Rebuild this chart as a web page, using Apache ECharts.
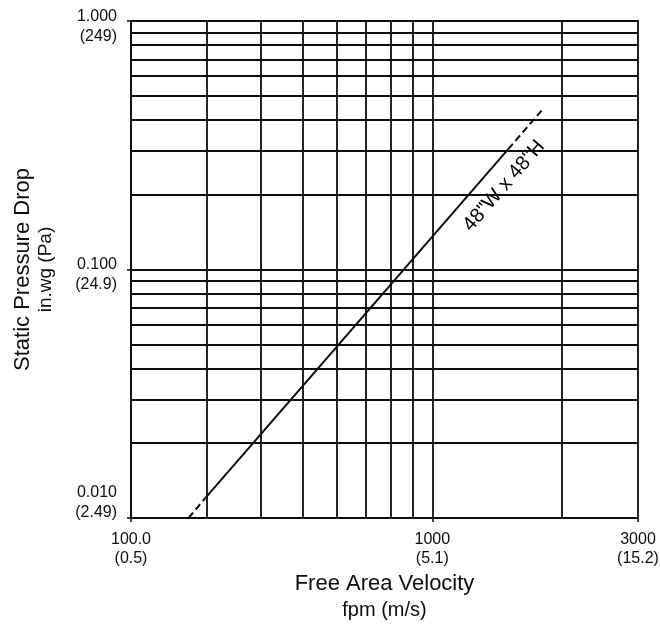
<!DOCTYPE html>
<html><head><meta charset="utf-8">
<script src="https://cdn.jsdelivr.net/npm/echarts@6/dist/echarts.min.js"></script>
<style>html,body{margin:0;padding:0;background:#fff}#c{width:660px;height:624px}</style>
</head><body><div id="c"></div>
<script>
// Axis ticks and labels
const xTickValues = [200, 1000, 3000];
const xTickLabels = [['100.0', '(0.5)'], ['1000', '(5.1)'], ['3000', '(15.2)']];
const yTickValues = [0.01, 0.1, 1];
const yTickLabels = [['0.010', '(2.49)'], ['0.100', '(24.9)'], ['1.000', '(249)']];
// Grid lines
const xGridValues = [300, 400, 500, 600, 700, 800, 900, 1000, 2000];
const yGridValues = [0.02, 0.03, 0.04, 0.05, 0.06, 0.07, 0.08, 0.09, 0.1,
                     0.2, 0.3, 0.4, 0.5, 0.6, 0.7, 0.8, 0.9];
// Curve (fpm, in.wg)
const curveDashLow = [[272, 0.0100], [297, 0.0120]];
const curveSolid = [[297, 0.0120], [600, 0.0488], [1000, 0.1355], [1500, 0.305]];
const curveDashHigh = [[1500, 0.305], [1800, 0.440]];
const curveLabel = '48"W x 48"H';
const curveLabelAt = [1467, 0.217];

const FONT = 'Liberation Sans, Arial, Helvetica, sans-serif';
const INK = '#0d0d0d';

function idxOf(vals, v) {
  for (let i = 0; i < vals.length; i++) {
    if (Math.abs(Math.log10(vals[i]) - Math.log10(v)) < 1e-6) return i;
  }
  return -1;
}

const chart = echarts.init(document.getElementById('c'), null, {renderer: 'canvas'});
const lineStyleBase = {color: INK, width: 2};

chart.setOption({
  animation: false,
  backgroundColor: '#fff',
  grid: {left: 131, right: 22, top: 21, bottom: 106, containLabel: false, outerBoundsMode: 'none',
         show: true, borderColor: INK, borderWidth: 1.8},
  xAxis: {
    type: 'log', logBase: 10, min: 200, max: 3000,
    axisLine: {show: true, lineStyle: {color: INK, width: 1.8}},
    axisTick: {show: true, inside: false, length: 4, customValues: xTickValues, lineStyle: {color: INK, width: 1.5}},
    splitLine: {show: false},
    minorTick: {show: false}, minorSplitLine: {show: false},
    axisLabel: {
      show: true, margin: 12, customValues: xTickValues,
      fontFamily: FONT, fontSize: 16, lineHeight: 19, color: INK, align: 'center',
      formatter: function (v) { const i = idxOf(xTickValues, v); return i < 0 ? '' : xTickLabels[i].join('\n'); }
    },
    name: '{a|Free Area Velocity}\n{b|fpm (m/s)}',
    nameLocation: 'middle', nameGap: 53,
    nameTextStyle: {
      fontFamily: FONT, color: INK, align: 'center',
      rich: {a: {fontFamily: FONT, fontSize: 22, lineHeight: 26, color: INK},
             b: {fontFamily: FONT, fontSize: 20, lineHeight: 26, color: INK}}
    }
  },
  yAxis: {
    type: 'log', logBase: 10, min: 0.01, max: 1,
    axisLine: {show: true, lineStyle: {color: INK, width: 1.8}},
    axisTick: {show: true, inside: false, length: 4, customValues: yTickValues, lineStyle: {color: INK, width: 1.5}},
    splitLine: {show: false},
    minorTick: {show: false}, minorSplitLine: {show: false},
    axisLabel: {
      show: true, margin: 14, customValues: yTickValues,
      fontFamily: FONT, fontSize: 16, lineHeight: 20, color: INK, align: 'right',
      formatter: function (v) {
        const i = idxOf(yTickValues, v);
        if (i < 0) return '';
        const t = yTickLabels[i];
        if (i === 0) return '{n|' + t[0] + '}\n{n|' + t[1] + '}\n{lo| }';
        return '{hi| }\n{n|' + t[0] + '}\n{n|' + t[1] + '}';
      },
      rich: {
        n: {fontFamily: FONT, fontSize: 16, lineHeight: 20, color: INK, align: 'right'},
        hi: {fontFamily: FONT, fontSize: 4, lineHeight: 11, color: INK, align: 'right'},
        lo: {fontFamily: FONT, fontSize: 4, lineHeight: 30, color: INK, align: 'right'}
      }
    },
    name: '{a|Static Pressure Drop}\n{b|in.wg (Pa)}',
    nameLocation: 'middle', nameGap: 74, nameRotate: 90,
    nameTextStyle: {
      fontFamily: FONT, color: INK, align: 'center',
      rich: {a: {fontFamily: FONT, fontSize: 22, lineHeight: 24, color: INK},
             b: {fontFamily: FONT, fontSize: 19, lineHeight: 22, color: INK}}
    }
  },
  series: [
    {
      name: 'grid', type: 'line', data: [], z: 1, silent: true, symbol: 'none',
      markLine: {
        silent: true, symbol: ['none', 'none'], label: {show: false}, animation: false,
        lineStyle: {color: INK, width: 1.8, type: 'solid'},
        emphasis: {disabled: true},
        data: xGridValues.map(v => ({xAxis: v})).concat(yGridValues.map(v => ({yAxis: v})))
      }
    },
    {
      name: 'label', type: 'scatter', z: 2, silent: true,
      data: [curveLabelAt], symbol: 'circle', symbolSize: 0,
      itemStyle: {color: INK, opacity: 1},
      label: {
        show: true, position: 'inside', rotate: 49, formatter: curveLabel,
        fontFamily: FONT, fontSize: 20, color: '#000', opacity: 1,
        textBorderWidth: 0,
        backgroundColor: '#fff', padding: [3, 5]
      }
    },
    {name: 'dashLow', type: 'line', z: 3, data: curveDashLow, symbol: 'none', silent: true,
     lineStyle: Object.assign({type: [7, 4]}, lineStyleBase)},
    {name: 'solid', type: 'line', z: 3, data: curveSolid, symbol: 'none', silent: true,
     lineStyle: Object.assign({type: 'solid'}, lineStyleBase)},
    {name: 'dashHigh', type: 'line', z: 3, data: curveDashHigh, symbol: 'none', silent: true,
     lineStyle: Object.assign({type: [7, 4]}, lineStyleBase)}
  ]
});
</script>
</body></html>
